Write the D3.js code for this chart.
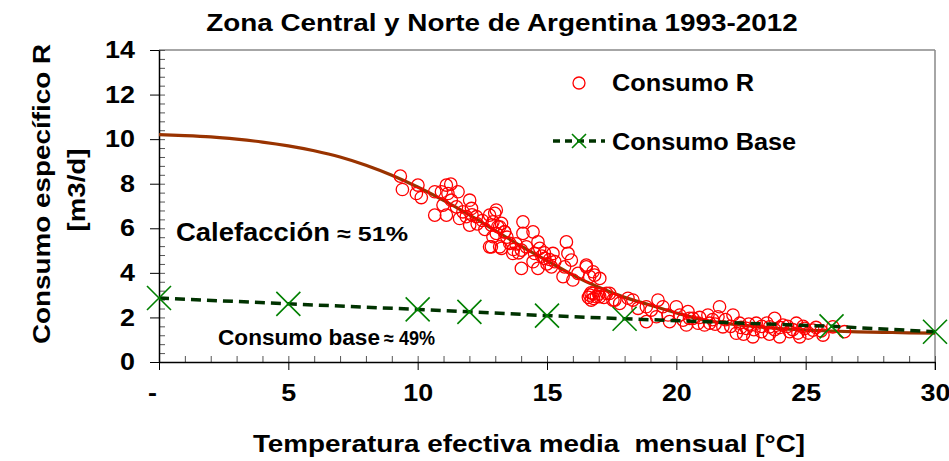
<!DOCTYPE html>
<html>
<head>
<meta charset="utf-8">
<script src="https://cdn.jsdelivr.net/npm/d3@7"></script>
<style>
  body { margin: 0; background: #fff; }
  text { font-family: "Liberation Sans", Arial, sans-serif; font-weight: bold; fill: #000; }
</style>
</head>
<body>
<div id="chart"></div>
<script>
// Zona Central y Norte - consumo especifico vs temperatura

// monthly observations (temperature, specific consumption)
const obsTemp = [
  9.33, 9.41, 10.01, 9.95, 10.14, 10.66, 10.92, 11.11, 11.28, 11.17, 11.56, 11.3, 10.98, 10.66, 11.11, 11.5,
  11.75, 12.01, 12.08, 11.88, 11.62, 12.01, 12.27, 12.78, 13.04, 12.91, 13.1, 13.24, 13.36, 12.91, 13.17, 12.78,
  12.98, 12.85, 13.17, 13.04, 13.36, 12.85, 13.24, 13.56, 13.68, 14.07, 14.07, 14.46, 14.01, 14.2, 14.01, 14.52,
  14.65, 14.72, 14.46, 14.65, 14.91, 15.23, 15.3, 15.17, 15.75, 15.81, 15.94, 15.68, 15.62, 16.0, 16.52, 16.78,
  17.04, 16.65, 16.2, 16.65, 16.91, 17.3, 17.55, 16.52, 16.84, 16.78, 16.71, 17.04, 17.42, 17.62, 17.81, 18.13,
  18.32, 18.52, 18.84, 19.03, 19.29, 19.48, 19.23, 19.68, 20.0, 20.13, 20.26, 20.45, 20.64, 20.39, 20.84, 21.22,
  21.09, 19.74, 18.84, 20.51, 21.67, 21.61, 22.19, 21.8, 22.45, 22.71, 23.09, 23.29, 23.8, 23.61, 24.12, 24.38,
  24.64, 24.96, 25.28, 25.67, 24.77, 23.99, 22.96, 26.05, 26.5, 22.32, 21.29,
  13.8, 13.9, 13.45, 13.7, 14.8, 15.0, 14.9, 15.1, 16.6, 16.8, 17.0, 16.7, 17.2,
  21.9, 22.1, 22.5, 22.8, 23.0, 23.3, 23.5, 23.8, 24.0, 24.3, 24.5, 24.7, 24.9, 25.1, 25.4, 25.6, 23.6, 22.6,
  21.4, 20.9, 21.5, 12.3, 12.5, 12.1, 12.6
];
const obsR = [
  8.34, 7.74, 7.94, 7.56, 7.38, 7.64, 7.64, 7.94, 7.98, 7.56, 7.64, 7.26, 7.04, 6.59, 6.59, 6.96,
  6.74, 7.26, 6.89, 6.52, 6.44, 6.14, 6.52, 6.59, 6.82, 6.29, 6.07, 6.22, 5.84, 5.62, 5.17, 5.17,
  6.67, 6.14, 6.07, 5.77, 5.84, 5.17, 5.1, 5.32, 4.87, 6.29, 5.77, 5.84, 5.02, 5.17, 4.2, 4.87,
  5.39, 5.1, 4.5, 4.2, 4.65, 4.87, 4.5, 4.27, 5.39, 4.87, 4.57, 4.27, 3.83, 3.68, 4.27, 4.05,
  3.75, 3.83, 3.98, 3.0, 2.93, 3.08, 2.78, 4.35, 3.9, 3.08, 2.78, 2.93, 3.08, 2.78, 2.63, 2.86,
  2.78, 2.41, 2.48, 2.33, 2.78, 2.48, 2.03, 2.11, 2.48, 2.11, 1.88, 2.26, 1.96, 1.66, 1.74, 2.11,
  1.66, 1.81, 1.81, 1.96, 2.48, 2.03, 2.11, 1.58, 1.74, 1.51, 1.74, 1.36, 1.96, 1.58, 1.66, 1.36,
  1.74, 1.51, 1.43, 1.21, 1.13, 1.13, 1.13, 1.58, 1.36, 1.29, 1.74,
  5.3, 4.9, 5.6, 5.05, 4.75, 4.4, 4.9, 4.6, 2.9, 2.85, 3.05, 3.1, 2.9,
  1.9, 1.6, 1.55, 1.7, 1.45, 1.6, 1.75, 1.45, 1.55, 1.6, 1.45, 1.3, 1.6, 1.3, 1.55, 1.4, 1.25, 1.25,
  1.9, 2.0, 1.7, 6.2, 6.35, 6.6, 5.95
];

// fitted curve
const fitTemp = [0, 1, 2, 3, 4, 5, 6, 7, 8, 9, 10, 11, 12, 13, 14, 15, 16, 17, 18, 19, 20, 21, 22, 23, 24, 25, 26, 27, 28, 29, 30];
const fitR = [10.2, 10.16, 10.1, 10.0, 9.87, 9.7, 9.48, 9.2, 8.83, 8.38, 7.85, 7.25, 6.6, 5.9, 5.2, 4.55, 3.9, 3.35, 2.9, 2.55, 2.2, 1.9, 1.72, 1.6, 1.5, 1.43, 1.39, 1.35, 1.33, 1.31, 1.3];

// base consumption
const baseTemp = [0, 5, 10, 12, 15, 18, 26, 30];
const baseR = [2.87, 2.61, 2.36, 2.25, 2.08, 1.94, 1.6, 1.36];

const xTicks = [0, 5, 10, 15, 20, 25, 30];
const yTicks = [0, 2, 4, 6, 8, 10, 12, 14];

const width = 949, height = 461;
const plotLeft = 159, plotRight = 935, plotTop = 50, plotBottom = 362;

const svg = d3.select('#chart').append('svg')
    .attr('width', width)
    .attr('height', height);

const x = d3.scaleLinear().domain([0, 30]).range([plotLeft, plotRight]);
const y = d3.scaleLinear().domain([0, 14]).range([plotBottom, plotTop]);

// stretch text along its direction (source font is wider than Arial)
function stretch(sel, k) {
    sel.each(function() {
        const w = this.getComputedTextLength();
        d3.select(this).attr('textLength', w * k).attr('lengthAdjust', 'spacingAndGlyphs');
    });
}

// gray frame top/right
svg.append('line').attr('x1', plotLeft).attr('x2', plotRight).attr('y1', plotTop).attr('y2', plotTop)
    .attr('stroke', '#888').attr('stroke-width', 1.5);
svg.append('line').attr('x1', plotRight).attr('x2', plotRight).attr('y1', plotTop).attr('y2', plotBottom + 8)
    .attr('stroke', '#888').attr('stroke-width', 1.5);

// minor ticks (inside)
svg.append('g')
    .attr('transform', `translate(${plotLeft},0)`)
    .call(d3.axisLeft(y).tickValues(d3.range(0, 14.01, 0.4)).tickSize(-6).tickFormat(''))
    .call(g => g.select('.domain').remove())
    .call(g => g.selectAll('line').attr('stroke', '#555'));
svg.append('g')
    .attr('transform', `translate(0,${plotBottom})`)
    .call(d3.axisBottom(x).tickValues(d3.range(0, 30.01, 1)).tickSize(-6).tickFormat(''))
    .call(g => g.select('.domain').remove())
    .call(g => g.selectAll('line').attr('stroke', '#555'));

// major axes
const yAxis = svg.append('g')
    .attr('transform', `translate(${plotLeft},0)`)
    .call(d3.axisLeft(y).tickValues(yTicks).tickSizeInner(9).tickSizeOuter(0).tickPadding(15));
yAxis.select('.domain').attr('stroke', '#000').attr('stroke-width', 1.5);
yAxis.selectAll('text').attr('font-size', 24);

const xAxis = svg.append('g')
    .attr('transform', `translate(0,${plotBottom})`)
    .call(d3.axisBottom(x).tickValues(xTicks).tickSizeInner(8).tickSizeOuter(0).tickPadding(14)
        .tickFormat(d => d === 0 ? '-' : d));
xAxis.select('.domain').attr('stroke', '#000').attr('stroke-width', 1.5);
xAxis.selectAll('text').attr('font-size', 24).attr('dx', d => d === 0 ? -7 : 0);

svg.selectAll('.tick text').call(stretch, 1.12);

// fitted curve
svg.append('path')
    .datum(fitTemp.map((t, i) => [t, fitR[i]]))
    .attr('fill', 'none')
    .attr('stroke', '#993300')
    .attr('stroke-width', 3.2)
    .attr('d', d3.line().x(d => x(d[0])).y(d => y(d[1])).curve(d3.curveMonotoneX));

// observations
svg.append('g').selectAll('circle')
    .data(obsTemp.map((t, i) => [t, obsR[i]]))
    .enter().append('circle')
    .attr('cx', d => x(d[0]))
    .attr('cy', d => y(d[1]))
    .attr('r', 6.2)
    .attr('fill', 'none')
    .attr('stroke', '#ff0000')
    .attr('stroke-width', 1.3);

// base consumption line
const basePts = baseTemp.map((t, i) => [t, baseR[i]]);
svg.append('path')
    .datum(basePts)
    .attr('fill', 'none')
    .attr('stroke', '#003300')
    .attr('stroke-width', 3.5)
    .attr('stroke-dasharray', '10,6')
    .attr('d', d3.line().x(d => x(d[0])).y(d => y(d[1])));

function cross(g, cx, cy, s) {
    g.append('path')
        .attr('d', `M${cx - s},${cy - s}L${cx + s},${cy + s}M${cx - s},${cy + s}L${cx + s},${cy - s}`)
        .attr('stroke', '#008000')
        .attr('stroke-width', 1.6)
        .attr('fill', 'none');
}
const crossG = svg.append('g');
basePts.forEach(d => cross(crossG, x(d[0]), y(d[1]), 12));

// title
svg.append('text')
    .attr('x', 502).attr('y', 31)
    .attr('text-anchor', 'middle')
    .attr('font-size', 24)
    .text('Zona Central y Norte de Argentina 1993-2012')
    .call(stretch, 1.16);

// axis titles
svg.append('text')
    .attr('x', 529).attr('y', 452)
    .attr('text-anchor', 'middle')
    .attr('font-size', 24)
    .style('white-space', 'pre')
    .text('Temperatura efectiva media  mensual [°C]')
    .call(stretch, 1.16);

svg.append('text')
    .attr('transform', 'translate(50,194) rotate(-90)')
    .attr('text-anchor', 'middle')
    .attr('font-size', 24)
    .text('Consumo específico R')
    .call(stretch, 1.16);
svg.append('text')
    .attr('transform', 'translate(85,190) rotate(-90)')
    .attr('text-anchor', 'middle')
    .attr('font-size', 24)
    .text('[m3/d]')
    .call(stretch, 1.15);

// legend
svg.append('circle')
    .attr('cx', 579).attr('cy', 83).attr('r', 6)
    .attr('fill', 'none').attr('stroke', '#ff0000').attr('stroke-width', 1.3);
svg.append('text').attr('x', 612).attr('y', 91).attr('font-size', 23)
    .text('Consumo R').call(stretch, 1.1);

svg.append('line')
    .attr('x1', 553).attr('x2', 605).attr('y1', 141).attr('y2', 141)
    .attr('stroke', '#003300').attr('stroke-width', 3.5).attr('stroke-dasharray', '7,5');
cross(svg, 579, 141, 7);
svg.append('text').attr('x', 612).attr('y', 150).attr('font-size', 23)
    .text('Consumo Base').call(stretch, 1.1);

// annotations
svg.append('text').attr('x', 176).attr('y', 241).attr('font-size', 26)
    .attr('textLength', 154).attr('lengthAdjust', 'spacingAndGlyphs')
    .text('Calefacción');
svg.append('text').attr('x', 337).attr('y', 241).attr('font-size', 21)
    .attr('textLength', 71).attr('lengthAdjust', 'spacingAndGlyphs')
    .text('≈ 51%');

svg.append('text').attr('x', 218).attr('y', 345).attr('font-size', 22)
    .attr('textLength', 162).attr('lengthAdjust', 'spacingAndGlyphs')
    .text('Consumo base');
svg.append('text').attr('x', 384).attr('y', 345).attr('font-size', 20)
    .attr('textLength', 51).attr('lengthAdjust', 'spacingAndGlyphs')
    .text('≈ 49%');
</script>
</body>
</html>
